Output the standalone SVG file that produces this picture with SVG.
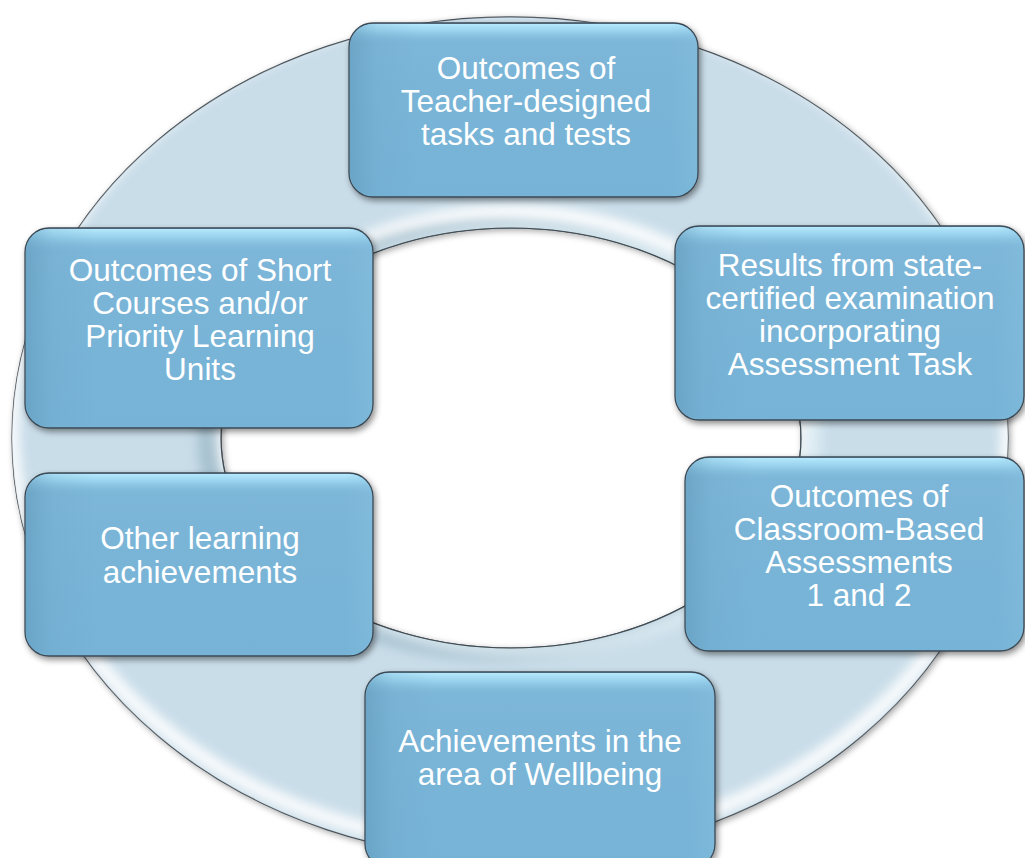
<svg xmlns="http://www.w3.org/2000/svg" width="1025" height="858" viewBox="0 0 1025 858">
  <style>
    .box { fill: url(#boxFill); stroke: #3d4a54; stroke-width: 1.3; filter: url(#boxShadow); }
    .hl { fill: url(#boxTop); }
    .sd { fill: url(#boxSide); }
    .lbl { font-family: "Liberation Sans", Arial, sans-serif; font-size: 31.5px; fill: #ffffff; text-anchor: middle; }
  </style>
  <defs>
    <linearGradient id="boxFill" x1="0" y1="0" x2="0" y2="1">
      <stop offset="0" stop-color="#7cb6d8"/>
      <stop offset="1" stop-color="#76b3d6"/>
    </linearGradient>
    <linearGradient id="boxTop" x1="0" y1="0" x2="0" y2="1">
      <stop offset="0" stop-color="#b8ecff" stop-opacity="0.95"/>
      <stop offset="0.04" stop-color="#a2daf3" stop-opacity="0.8"/>
      <stop offset="0.12" stop-color="#7cb6d8" stop-opacity="0"/>
      <stop offset="1" stop-color="#7cb6d8" stop-opacity="0"/>
    </linearGradient>
    <linearGradient id="boxSide" x1="0" y1="0" x2="1" y2="0">
      <stop offset="0" stop-color="#5f97b8" stop-opacity="0.55"/>
      <stop offset="0.08" stop-color="#6aa3c4" stop-opacity="0.2"/>
      <stop offset="0.2" stop-color="#6aa3c4" stop-opacity="0"/>
      <stop offset="0.92" stop-color="#8cc4e2" stop-opacity="0"/>
      <stop offset="1" stop-color="#8cc4e2" stop-opacity="0.3"/>
    </linearGradient>
    <filter id="boxShadow" x="-10%" y="-10%" width="120%" height="125%">
      <feDropShadow dx="2" dy="3" stdDeviation="3" flood-color="#000000" flood-opacity="0.45"/>
    </filter>
    <filter id="ringShadow" x="-5%" y="-5%" width="110%" height="110%">
      <feDropShadow dx="2" dy="2" stdDeviation="3" flood-color="#000000" flood-opacity="0.35"/>
    </filter>
    <filter id="blur8" x="-10%" y="-10%" width="120%" height="120%">
      <feGaussianBlur stdDeviation="6"/>
    </filter>
    <clipPath id="ringClip">
      <path clip-rule="evenodd" d="M12,438 a498,421 0 1,0 996,0 a498,421 0 1,0 -996,0 Z M221,438 a290,210 0 1,0 580,0 a290,210 0 1,0 -580,0 Z"/>
    </clipPath>
  </defs>

  <rect width="1025" height="858" fill="#ffffff"/>

  <g id="ring">
    <path fill-rule="evenodd" fill="#c9dde9" stroke="#3f4a52" stroke-width="1.2" filter="url(#ringShadow)"
          d="M12,438 a498,421 0 1,0 996,0 a498,421 0 1,0 -996,0 Z M221,438 a290,210 0 1,0 580,0 a290,210 0 1,0 -580,0 Z"/>
    <g clip-path="url(#ringClip)">
      <ellipse cx="510" cy="426" rx="498" ry="421" fill="none" stroke="#ffffff" stroke-width="14" filter="url(#blur8)" opacity="0.95"/>
      <ellipse cx="511" cy="424" rx="290" ry="210" fill="none" stroke="#ffffff" stroke-width="18" filter="url(#blur8)" opacity="0.95"/>
      <ellipse cx="498" cy="440" rx="290" ry="210" fill="none" stroke="#8fadbd" stroke-width="20" filter="url(#blur8)" opacity="0.6"/>
      <ellipse cx="524" cy="440" rx="290" ry="210" fill="none" stroke="#e4f1f7" stroke-width="16" filter="url(#blur8)" opacity="0.7"/>
    </g>
    <path fill="none" stroke="#3f4a52" stroke-width="1.2"
          d="M221,438 a290,210 0 1,0 580,0 a290,210 0 1,0 -580,0 Z"/>
  </g>

  <g id="connectors"></g>

  <g id="node-teacher">
    <rect class="box" x="349" y="23" width="349" height="174" rx="24"/>
    <rect class="hl" x="350" y="24" width="347" height="172" rx="23"/>
    <rect class="sd" x="350" y="24" width="347" height="172" rx="23"/>
    <text class="lbl" x="526" y="79">Outcomes of<tspan x="526" y="112">Teacher-designed</tspan><tspan x="526" y="145">tasks and tests</tspan></text>
  </g>

  <g id="node-short-courses">
    <rect class="box" x="25" y="228" width="348" height="200" rx="24"/>
    <rect class="hl" x="26" y="229" width="346" height="198" rx="23"/>
    <rect class="sd" x="26" y="229" width="346" height="198" rx="23"/>
    <text class="lbl" x="200" y="281">Outcomes of Short<tspan x="200" y="314">Courses and/or</tspan><tspan x="200" y="347">Priority Learning</tspan><tspan x="200" y="380">Units</tspan></text>
  </g>

  <g id="node-other">
    <rect class="box" x="25" y="473" width="348" height="183" rx="24"/>
    <rect class="hl" x="26" y="474" width="346" height="181" rx="23"/>
    <rect class="sd" x="26" y="474" width="346" height="181" rx="23"/>
    <text class="lbl" x="200" y="549">Other learning<tspan x="200" y="583">achievements</tspan></text>
  </g>

  <g id="node-state-exam">
    <rect class="box" x="675" y="226" width="349" height="194" rx="24"/>
    <rect class="hl" x="676" y="227" width="347" height="192" rx="23"/>
    <rect class="sd" x="676" y="227" width="347" height="192" rx="23"/>
    <text class="lbl" x="850" y="276">Results from state-<tspan x="850" y="309">certified examination</tspan><tspan x="850" y="342">incorporating</tspan><tspan x="850" y="375">Assessment Task</tspan></text>
  </g>

  <g id="node-cba">
    <rect class="box" x="685" y="457" width="339" height="194" rx="24"/>
    <rect class="hl" x="686" y="458" width="337" height="192" rx="23"/>
    <rect class="sd" x="686" y="458" width="337" height="192" rx="23"/>
    <text class="lbl" x="859" y="507">Outcomes of<tspan x="859" y="540">Classroom-Based</tspan><tspan x="859" y="573">Assessments</tspan><tspan x="859" y="606">1 and 2</tspan></text>
  </g>

  <g id="node-wellbeing">
    <rect class="box" x="365" y="672" width="350" height="196" rx="24"/>
    <rect class="hl" x="366" y="673" width="348" height="194" rx="23"/>
    <rect class="sd" x="366" y="673" width="348" height="194" rx="23"/>
    <text class="lbl" x="540" y="752">Achievements in the<tspan x="540" y="785">area of Wellbeing</tspan></text>
  </g>
</svg>
